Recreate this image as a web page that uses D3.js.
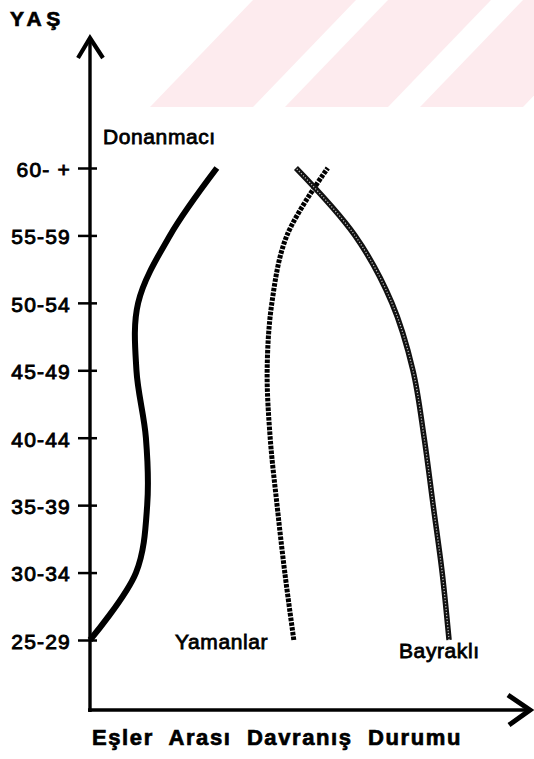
<!DOCTYPE html>
<meta charset="utf-8">
<script src="https://cdn.jsdelivr.net/npm/d3@7"></script>
<style>
body { margin: 0; background: #fff; }
svg { display: block; }
text { font-family: "Liberation Sans", Arial, Helvetica, sans-serif; fill: #000; }
</style>
<body>
<script>

// age groups, bottom to top
var ageGroups = ["25-29", "30-34", "35-39", "40-44", "45-49", "50-54", "55-59", "60- +"]

// position on the (unscaled) behaviour axis, 0..100
var donanmaci = [0, 10.7, 13.3, 13.0, 10.8, 11.2, 18.6, 29.5]
var yamanlar  = [47.4, 45.3, 43.5, 41.9, 41.2, 42.3, 45.8, 55.3]
var bayrakli  = [83.5, 81.9, 79.8, 77.7, 75.1, 70.2, 61.6, 47.9]

var seriesNames = ["Donanmacı", "Yamanlar", "Bayraklı"]
var yTitle = "YAŞ"
var xTitle = "Eşler  Arası  Davranış  Durumu"

var width = 534
var height = 759

var svg = d3.select("body").append("svg")
            .attr("width", width)
            .attr("height", height)

// faint pink watermark band at the top
var stripes = [0, 1, 2, 3]
svg.selectAll(".wm")
    .data(stripes)
    .enter().append("polygon")
      .attr("class", "wm")
      .attr("points", function(i) {
        var x0 = 150 + i*135
        return [[x0, 107], [x0+103, 107], [x0+206, 0], [x0+103, 0]].join(" ")
      })
      .attr("fill", "#fdebee")

var x = d3.scaleLinear().domain([0, 100]).range([90, 520])
var y = d3.scalePoint().domain(ageGroups).range([640, 168])

// y axis with ticks crossing the line
var yAxis = svg.append("g")
    .attr("transform", "translate(90,0)")
    .call(d3.axisLeft(y).tickSize(12).tickPadding(7))
yAxis.select(".domain").remove()
yAxis.selectAll(".tick line").attr("x1", 7).attr("stroke", "#000").attr("stroke-width", 2.5)
yAxis.selectAll(".tick text")
    .style("font-size", "21px")
    .style("letter-spacing", "1.2px")
    .attr("dy", "0.4em")
    .attr("stroke", "#000").attr("stroke-width", 0.9)

svg.append("line")
    .attr("x1", 90).attr("x2", 90).attr("y1", 712).attr("y2", 40)
    .attr("stroke", "#000").attr("stroke-width", 3.4)
svg.append("path")
    .attr("d", "M78,58L90,38L103,58")
    .attr("fill", "none").attr("stroke", "#000").attr("stroke-width", 4.2)

svg.append("line")
    .attr("x1", 88).attr("x2", 528).attr("y1", 710).attr("y2", 710)
    .attr("stroke", "#000").attr("stroke-width", 3.4)
svg.append("path")
    .attr("d", "M508,695L530,710L509,725")
    .attr("fill", "none").attr("stroke", "#000").attr("stroke-width", 5)

var line = d3.line()
    .x(function(d) { return x(d.v) })
    .y(function(d) { return y(d.age) })
    .curve(d3.curveCatmullRom.alpha(0.5))

function pts(vals) {
  return vals.map(function(v, i) { return {age: ageGroups[i], v: v} })
}

// Donanmacı: solid thick
svg.append("path")
    .attr("d", line(pts(donanmaci)))
    .attr("fill", "none").attr("stroke", "#000")
    .attr("stroke-width", 6)

// Yamanlar: hatched
svg.append("path")
    .attr("d", line(pts(yamanlar)))
    .attr("fill", "none").attr("stroke", "#000")
    .attr("stroke-width", 5).attr("stroke-dasharray", "3.6 1.2")

// Bayraklı: beaded chain
svg.append("path")
    .attr("d", line(pts(bayrakli)))
    .attr("fill", "none").attr("stroke", "#111")
    .attr("stroke-width", 5.5)
svg.append("path")
    .attr("d", line(pts(bayrakli)))
    .attr("fill", "none").attr("stroke", "#bbb")
    .attr("stroke-width", 1.3).attr("stroke-dasharray", "1.2 1.8")

// series labels
var labelPos = [[103, 144], [175, 649], [399, 658]]
svg.selectAll(".lbl")
    .data(seriesNames)
    .enter().append("text")
      .attr("class", "lbl")
      .attr("x", function(d, i) { return labelPos[i][0] })
      .attr("y", function(d, i) { return labelPos[i][1] })
      .style("font-size", "21px")
      .style("letter-spacing", "0.6px")
      .attr("stroke", "#000").attr("stroke-width", 0.8)
      .text(function(d) { return d })

svg.append("text")
    .attr("x", 10).attr("y", 26)
    .style("font-size", "21px").style("font-weight", "bold")
    .style("letter-spacing", "4.5px")
    .attr("stroke", "#000").attr("stroke-width", 0.7)
    .text(yTitle)

svg.append("text")
    .attr("x", 92).attr("y", 745)
    .style("font-size", "22px").style("font-weight", "bold")
    .style("letter-spacing", "1.6px")
    .style("white-space", "pre")
    .attr("stroke", "#000").attr("stroke-width", 0.7)
    .text(xTitle)

</script>
</body>
